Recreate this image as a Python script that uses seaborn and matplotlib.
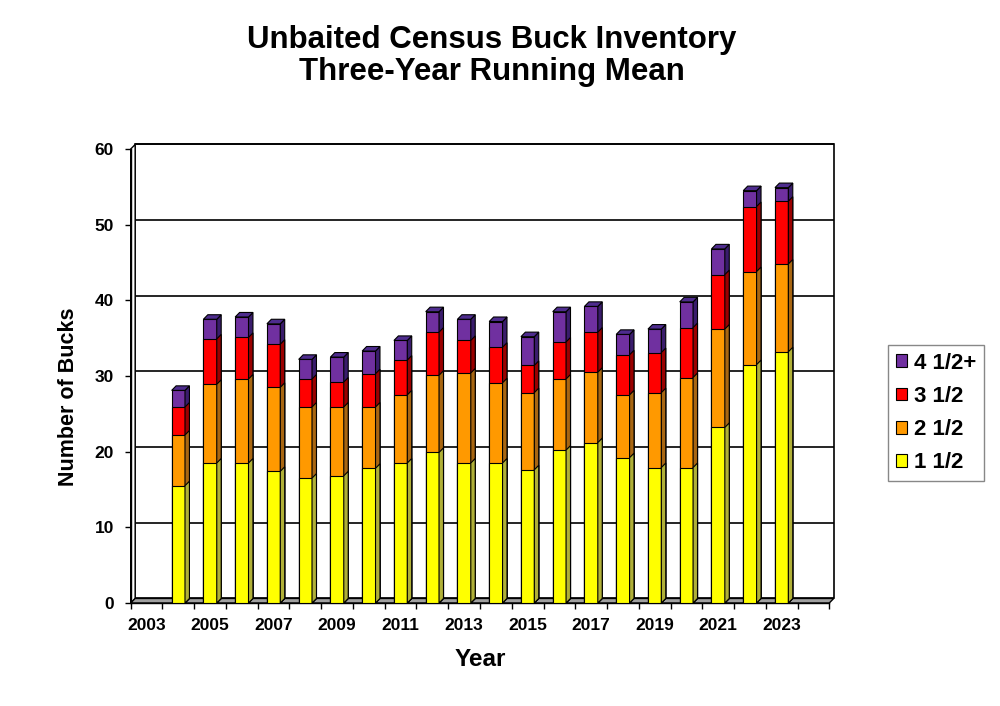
import numpy as np
import pandas as pd
import matplotlib
matplotlib.use("Agg")
import matplotlib.pyplot as plt
from matplotlib.patches import Polygon, Patch
import seaborn as sns

# three-year running mean, bucks by age class
years = [str(y) for y in range(2004, 2024)]
all_years = [str(y) for y in range(2003, 2025)]
age_1_5 = [15.5, 18.5, 18.5, 17.4, 16.5, 16.8, 17.8, 18.5, 19.9, 18.5,
           18.5, 17.6, 20.2, 21.2, 19.2, 17.9, 17.9, 23.2, 31.5, 33.2]
age_2_5 = [6.7, 10.4, 11.1, 11.1, 9.4, 9.1, 8.1, 9.0, 10.2, 11.9,
           10.6, 10.2, 9.4, 9.3, 8.3, 9.9, 11.9, 13.0, 12.3, 11.6]
age_3_5 = [3.7, 6.0, 5.5, 5.7, 3.7, 3.3, 4.4, 4.6, 5.7, 4.3,
           4.7, 3.6, 4.9, 5.3, 5.3, 5.3, 6.6, 7.2, 8.6, 8.3]
age_4_5 = [2.2, 2.6, 2.7, 2.7, 2.6, 3.3, 3.0, 2.6, 2.7, 2.8,
           3.4, 3.8, 4.0, 3.4, 2.7, 3.1, 3.4, 3.4, 2.1, 1.8]

labels = ["1 1/2", "2 1/2", "3 1/2", "4 1/2+"]
colors = ["#FFFF00", "#FF9900", "#FF0000", "#7030A0"]
side_colors = ["#B0B038", "#A86612", "#9A0000", "#3A1C6C"]
top_color = "#4E2C8E"

df = pd.DataFrame({"year": years, "a1": age_1_5, "a2": age_2_5,
                   "a3": age_3_5, "a4": age_4_5})
cum = df[["a1", "a2", "a3", "a4"]].cumsum(axis=1)
cum["year"] = df["year"]

sns.set_style("white")
plt.rcParams["font.family"] = ["Liberation Sans", "DejaVu Sans"]
plt.rcParams["font.weight"] = "bold"
plt.rcParams["text.color"] = "black"
plt.rcParams["xtick.color"] = "black"
plt.rcParams["ytick.color"] = "black"

fig = plt.figure(figsize=(10, 7.06), dpi=100)
ax = fig.add_axes([0.1307, 0.1459, 0.6986, 0.643])

# depth of the fake 3D effect in data units
dx, dy = 0.14, 0.6
x0, x1 = -0.5, len(all_years) - 0.5

# back wall, gridlines, left wall and floor
yticks = np.arange(0, 61, 10)
ax.add_patch(Polygon([(x0 + dx, dy), (x1 + dx, dy), (x1 + dx, 60 + dy), (x0 + dx, 60 + dy)],
                     closed=True, facecolor="white", edgecolor="black", lw=1.2,
                     zorder=0.5, clip_on=False))
ax.hlines(yticks[1:] + dy, x0 + dx, x1 + dx, color="black", lw=1.2, zorder=0.6, clip_on=False)
ax.add_patch(Polygon([(x0, 0), (x0 + dx, dy), (x0 + dx, 60 + dy), (x0, 60)],
                     closed=True, facecolor="white", edgecolor="black", lw=1.0,
                     zorder=0.7, clip_on=False))
ax.add_patch(Polygon([(x0, 0), (x1, 0), (x1 + dx, dy), (x0 + dx, dy)],
                     closed=True, facecolor="#A0A0A0", edgecolor="black", lw=1.0,
                     zorder=0.8, clip_on=False))

# stacked bars: draw cumulative totals from the top layer down
layer_cols = ["a4", "a3", "a2", "a1"]
for k, col in enumerate(layer_cols):
    idx = 3 - k
    sns.barplot(data=cum, x="year", y=col, order=all_years, color=colors[idx],
                saturation=1, width=0.42, edgecolor="black", linewidth=0.8,
                errorbar=None, ax=ax, zorder=2 + k)
    for p in ax.containers[-1].patches:
        h = p.get_height()
        if not np.isfinite(h) or h <= 0:
            continue
        bx, bw = p.get_x(), p.get_width()
        p.set_zorder(2 + k)
        ax.add_patch(Polygon([(bx + bw, 0), (bx + bw + dx, dy), (bx + bw + dx, h + dy), (bx + bw, h)],
                             closed=True, facecolor=side_colors[idx], edgecolor="black",
                             lw=0.8, zorder=2 + k))
        if k == 0:
            ax.add_patch(Polygon([(bx, h), (bx + dx, h + dy), (bx + bw + dx, h + dy), (bx + bw, h)],
                                 closed=True, facecolor=top_color, edgecolor="black",
                                 lw=0.8, zorder=2 + k))

ax.set_xlim(x0, x1)
ax.set_ylim(0, 60)
ax.set_xlabel("")
ax.set_ylabel("")

for s in ["top", "right"]:
    ax.spines[s].set_visible(False)
for s in ["left", "bottom"]:
    ax.spines[s].set_color("black")
    ax.spines[s].set_linewidth(1.0)
    ax.spines[s].set_zorder(0.9)

ax.set_yticks(yticks)
ax.set_yticklabels([str(v) for v in yticks], fontsize=12.5, fontweight="bold")
ax.set_xticks(range(0, len(all_years), 2))
ax.set_xticklabels(all_years[::2], fontsize=12.5, fontweight="bold")
ax.set_xticks(np.arange(x0, x1 + 0.01, 1), minor=True)
ax.tick_params(axis="y", direction="out", length=4, width=1, color="black", pad=8, left=True)
ax.tick_params(axis="x", which="major", length=0, pad=11)
ax.tick_params(axis="x", which="minor", direction="out", length=4, width=1, color="black", bottom=True)

fig.text(0.492, 1 - 56 / 706, "Unbaited Census Buck Inventory\nThree-Year Running Mean",
         ha="center", va="center", fontsize=22.5, fontweight="bold", linespacing=1.12)
fig.text(0.068, 1 - 397 / 706, "Number of Bucks", rotation=90, ha="center", va="center",
         fontsize=15.5, fontweight="bold")
fig.text(0.48, 1 - 660 / 706, "Year", ha="center", va="center", fontsize=17.5, fontweight="bold")

handles = [Patch(facecolor=colors[i], edgecolor="black", lw=0.8) for i in [3, 2, 1, 0]]
leg = fig.legend(handles, [labels[i] for i in [3, 2, 1, 0]], loc="center left",
                 bbox_to_anchor=(0.888, 1 - 413 / 706), prop={"size": 16, "weight": "bold"},
                 handlelength=0.5, handleheight=0.5, handletextpad=0.3,
                 labelspacing=0.55, borderpad=0.35, borderaxespad=0,
                 fancybox=False, framealpha=1)
leg.get_frame().set_edgecolor("#888888")
leg.get_frame().set_linewidth(1.0)

fig.savefig("out.png", dpi=100)
